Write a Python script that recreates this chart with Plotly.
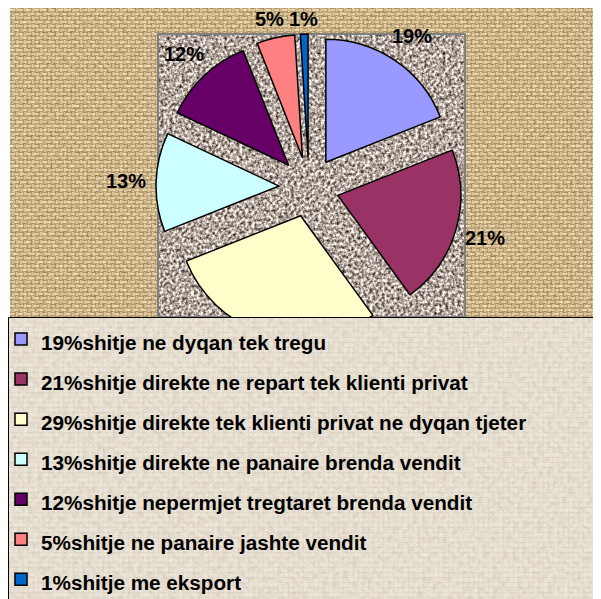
import base64
import math
import plotly.graph_objects as go

# ---- data ----
labels = [
    "shitje ne dyqan tek tregu",
    "shitje direkte ne repart tek klienti privat",
    "shitje direkte tek klienti privat ne dyqan tjeter",
    "shitje direkte ne panaire brenda vendit",
    "shitje nepermjet tregtaret brenda vendit",
    "shitje ne panaire jashte vendit",
    "shitje me eksport",
]
values = [19, 21, 29, 13, 12, 5, 1]
colors = ["#9999FF", "#993366", "#FFFFCC", "#CCFFFF", "#660066", "#FF8080", "#0066CC"]

# The page body adds an 8px margin, so the figure is sized to the visible area
OFF = 8
W, H = 601 - OFF, 599 - OFF


def px(x):
    return (x - OFF) / W


def py(y):
    return 1 - (y - OFF) / H


def svg_uri(svg):
    return "data:image/svg+xml;base64," + base64.b64encode(svg.encode()).decode()


def noise_filter(fid, freq, seed, k, base, octaves=3):
    r, g, b = base
    return (
        f"<filter id='{fid}' x='0' y='0' width='1' height='1' color-interpolation-filters='sRGB'>"
        f"<feTurbulence type='fractalNoise' baseFrequency='{freq}' numOctaves='{octaves}' seed='{seed}'/>"
        f"<feColorMatrix type='matrix' values='{k} 0 0 0 {r - k/2}  {k} 0 0 0 {g - k/2}  {k} 0 0 0 {b - k/2}  0 0 0 0 1'/>"
        f"</filter>"
    )


# burlap background texture
burlap = (
    "<svg xmlns='http://www.w3.org/2000/svg' width='591' height='310' viewBox='0 0 591 310' preserveAspectRatio='none'>"
    "<defs><pattern id='p' width='8' height='8' patternUnits='userSpaceOnUse'>"
    "<rect width='8' height='8' fill='#b09468'/>"
    "<rect x='0' y='1' width='5' height='2' fill='#efe0b6'/>"
    "<rect x='4' y='5' width='4' height='2' fill='#efe0b6'/>"
    "<rect x='0' y='5' width='1' height='2' fill='#efe0b6'/>"
    "<rect x='6' y='0' width='2' height='4' fill='#e0cb9c'/>"
    "<rect x='2' y='4' width='2' height='4' fill='#e0cb9c'/>"
    "</pattern>"
    + noise_filter("n", 0.3, 5, 1.0, (0.76, 0.66, 0.5)) +
    "</defs>"
    "<rect width='591' height='310' fill='url(#p)'/>"
    "<rect width='591' height='310' filter='url(#n)' opacity='0.3'/>"
    "</svg>"
)

# speckled gray plot area texture
speckle = (
    "<svg xmlns='http://www.w3.org/2000/svg' width='307' height='283' viewBox='0 0 307 283' preserveAspectRatio='none'>"
    "<defs>" + noise_filter("s", 0.33, 9, 1.5, (0.70, 0.655, 0.625)) + "</defs>"
    "<rect width='307' height='283' filter='url(#s)'/>"
    "</svg>"
)

# legend background texture
legtex = (
    "<svg xmlns='http://www.w3.org/2000/svg' width='593' height='282' viewBox='0 0 593 282' preserveAspectRatio='none'>"
    "<defs><pattern id='q' width='5' height='5' patternUnits='userSpaceOnUse'>"
    "<rect width='5' height='5' fill='#e9e1d4'/>"
    "<rect x='0' y='0' width='5' height='1' fill='#dfd5c5'/>"
    "<rect x='0' y='0' width='1' height='5' fill='#e1d8c9'/>"
    "</pattern>"
    + noise_filter("m", 0.2, 3, 1.0, (0.9, 0.87, 0.82)) +
    "</defs>"
    "<rect width='593' height='282' fill='url(#q)'/>"
    "<rect width='593' height='282' filter='url(#m)' opacity='0.15'/>"
    "</svg>"
)

legend_labels = [
    f"<span style='font-size:20.7px'>{v}%{name}</span>" for v, name in zip(values, labels)
]

# pie geometry (reference pixels): centre (309,187), radius 123, slices pulled 30px
CX, CY, R = 309, 187, 123
pull = 30 / R
half = R * (1 + pull)

fig = go.Figure(
    go.Pie(
        labels=legend_labels,
        values=values,
        sort=False,
        direction="clockwise",
        rotation=0,
        pull=[pull] * len(values),
        marker=dict(colors=colors, line=dict(color="#000000", width=1.5)),
        textinfo="none",
        hoverinfo="label+percent",
        domain=dict(x=[px(CX - half), px(CX + half)], y=[py(CY + half), py(CY - half)]),
    )
)

# percentage labels placed along each slice's bisector, outside the pie
LEGEND_TOP = 317
annotations = []
total = sum(values)
cum = 0
for v in values:
    mid = (cum + v / 2) / total * 2 * math.pi
    cum += v
    lx = CX + 183 * math.sin(mid)
    ly = CY - 183 * math.cos(mid)
    if ly > LEGEND_TOP - 10:
        continue  # hidden behind the legend box in the original
    ly = max(ly, 19)  # keep inside the visible page
    annotations.append(dict(
        x=px(lx), y=py(ly), xref="paper", yref="paper", text=f"{v}%", showarrow=False,
        xanchor="center", yanchor="middle",
        font=dict(family="Arial, Liberation Sans, sans-serif", size=20, color="#000000", weight="bold"),
    ))

fig.update_layout(
    width=W,
    height=H,
    autosize=False,
    margin=dict(l=0, r=0, t=0, b=0, autoexpand=False),
    paper_bgcolor="#ffffff",
    plot_bgcolor="rgba(0,0,0,0)",
    showlegend=True,
    legend=dict(
        x=px(1),
        y=py(314),
        xanchor="left",
        yanchor="top",
        bgcolor="rgba(0,0,0,0)",
        borderwidth=0,
        font=dict(family="Arial, Liberation Sans, sans-serif", size=28.5, color="#000000", weight="bold"),
        traceorder="normal",
    ),
    annotations=annotations,
    images=[
        dict(source=svg_uri(burlap), xref="paper", yref="paper", x=px(10), y=py(8),
             sizex=591 / W, sizey=310 / H, xanchor="left", yanchor="top",
             sizing="stretch", layer="below"),
        dict(source=svg_uri(speckle), xref="paper", yref="paper", x=px(158), y=py(34),
             sizex=307 / W, sizey=283 / H, xanchor="left", yanchor="top",
             sizing="stretch", layer="below"),
        dict(source=svg_uri(legtex), xref="paper", yref="paper", x=px(8), y=py(317),
             sizex=593 / W, sizey=282 / H, xanchor="left", yanchor="top",
             sizing="stretch", layer="above"),
    ],
    shapes=[
        dict(type="rect", xref="paper", yref="paper", x0=px(158), x1=px(465), y0=py(317), y1=py(34),
             line=dict(color="#808080", width=2), fillcolor="rgba(0,0,0,0)", layer="below"),
        dict(type="rect", xref="paper", yref="paper", x0=px(8.5), x1=px(610), y0=py(610), y1=py(317.5),
             line=dict(color="#000000", width=1), fillcolor="rgba(0,0,0,0)", layer="above"),
    ],
)

fig.write_html("out.html")
